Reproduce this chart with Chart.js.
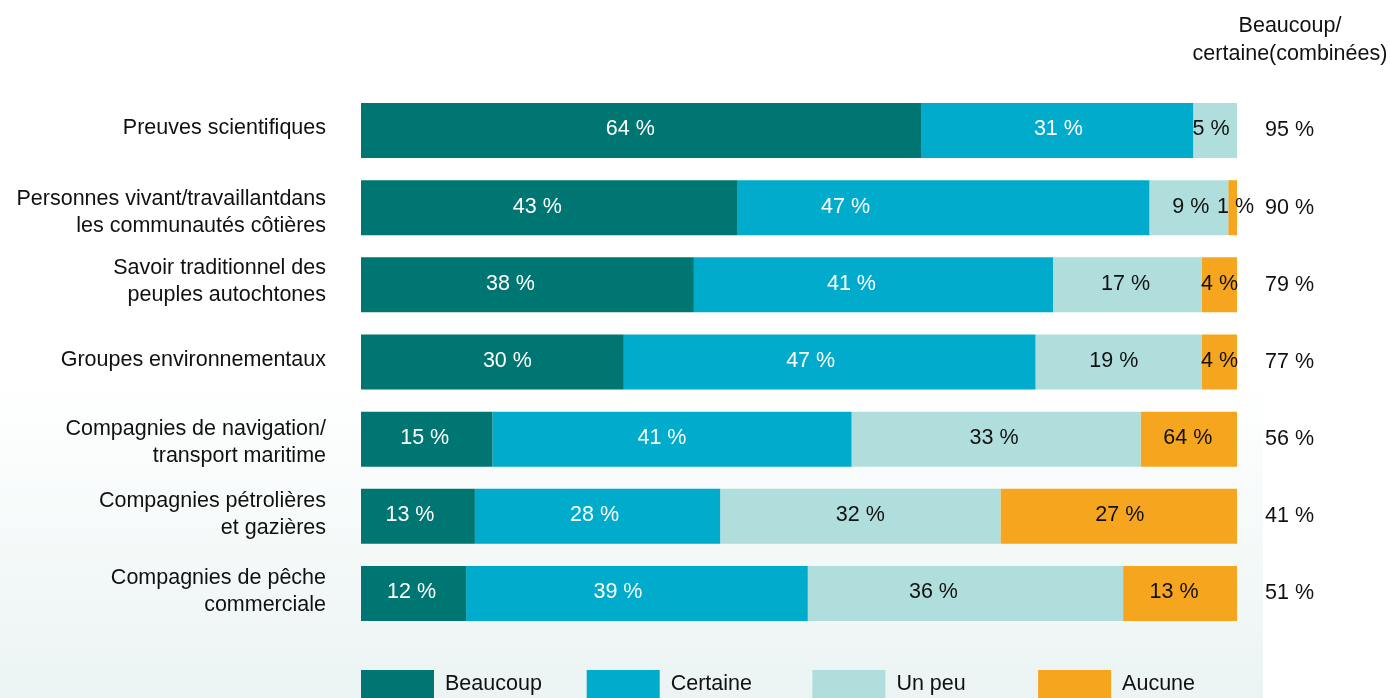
<!DOCTYPE html>
<html>
<head>
<meta charset="utf-8">
<script src="https://cdn.jsdelivr.net/npm/chart.js@4"></script>
<style>
  html, body { margin: 0; padding: 0; background: #ffffff; }
  #wrap { position: relative; width: 1390px; height: 698px; }
</style>
</head>
<body>
<div id="wrap"><canvas id="chart" width="1390" height="698"></canvas></div>
<script>
// ---------------- DATA ----------------
const categories = [
  ["Preuves scientifiques"],
  ["Personnes vivant/travaillantdans", "les communautés côtières"],
  ["Savoir traditionnel des", "peuples autochtones"],
  ["Groupes environnementaux"],
  ["Compagnies de navigation/", "transport maritime"],
  ["Compagnies pétrolières", "et gazières"],
  ["Compagnies de pêche", "commerciale"]
];
const beaucoup = [64, 43, 38, 30, 15, 13, 12];
const certaine = [31, 47, 41, 47, 41, 28, 39];
const unPeu = [5, 9, 17, 19, 33, 32, 36];
const aucune = [0, 1, 4, 4, 11, 27, 13];
// label printed on the "Aucune" segments (as shown in the source, incl. the 64 % one)
const aucuneLabels = ["", "1 %", "4 %", "4 %", "64 %", "27 %", "13 %"];
const combined = [95, 90, 79, 77, 56, 41, 51];
const seriesNames = ["Beaucoup", "Certaine", "Un peu", "Aucune"];
const seriesColors = ["#007672", "#00abcc", "#b0dedc", "#f6a51e"];
const combinedTitle = ["Beaucoup/", "certaine(combinées)"];

const FONT = "'Liberation Sans', Arial, sans-serif";
const SIZE = 21.5;

// the source places some segment labels off-centre; horizontal nudges in px
const labelNudge = [
  [-11, -12, -17, 15, -2, -8, -2],
  [1, -98, -22, -19, -10, -3, -19],
  [-4, 2, -2, -5, -2, 0, -32],
  [0, 3, 0, 0, -1, 1, -6]
];
// vertical nudges of the category labels
const catNudge = [-2, 5, -3, -2, 3, -2, -2];

// ---------------- PLUGINS ----------------
const bgPlugin = {
  id: "bg",
  beforeDraw(chart) {
    const ctx = chart.ctx;
    const g = ctx.createLinearGradient(0, 380, 0, chart.height);
    g.addColorStop(0, "rgba(235,244,243,0)");
    g.addColorStop(1, "#ebf4f3");
    ctx.save();
    ctx.fillStyle = g;
    ctx.fillRect(0, 0, 1263, chart.height);
    ctx.restore();
  }
};

const textPlugin = {
  id: "texts",
  afterDatasetsDraw(chart) {
    const ctx = chart.ctx;
    const yScale = chart.scales.y;
    const area = chart.chartArea;
    ctx.save();
    ctx.font = SIZE + "px " + FONT;
    ctx.textBaseline = "middle";

    // category labels
    ctx.fillStyle = "#111111";
    ctx.textAlign = "right";
    categories.forEach((lines, i) => {
      const cy = yScale.getPixelForValue(i) + catNudge[i];
      const top = cy - (lines.length - 1) * 27 / 2;
      lines.forEach((t, j) => ctx.fillText(t, area.left - 35, top + j * 27));
    });

    // segment labels
    ctx.textAlign = "center";
    chart.data.datasets.forEach((ds, di) => {
      const meta = chart.getDatasetMeta(di);
      meta.data.forEach((bar, i) => {
        const txt = di === 3 ? aucuneLabels[i] : ds.data[i] + " %";
        if (!txt || ds.data[i] === 0) return;
        ctx.fillStyle = di < 2 ? "#ffffff" : "#111111";
        ctx.fillText(txt, (bar.base + bar.x) / 2 + labelNudge[di][i], bar.y - 1);
      });
    });

    // combined column
    ctx.fillStyle = "#111111";
    ctx.textAlign = "left";
    combined.forEach((v, i) => {
      ctx.fillText(v + " %", area.right + 28, yScale.getPixelForValue(i));
    });
    ctx.textAlign = "center";
    combinedTitle.forEach((t, j) => ctx.fillText(t, 1290, 26 + j * 28));

    // legend
    seriesNames.forEach((name, i) => {
      const x = area.left + i * 225.7;
      ctx.fillStyle = seriesColors[i];
      ctx.fillRect(x, 670, 73, 30);
      ctx.fillStyle = "#111111";
      ctx.textAlign = "left";
      ctx.fillText(name, x + 84, 684);
    });
    ctx.restore();
  }
};

// ---------------- CHART ----------------
new Chart(document.getElementById("chart"), {
  type: "bar",
  data: {
    labels: categories.map(c => c.join(" ")),
    datasets: [beaucoup, certaine, unPeu, aucune].map((d, i) => ({
      label: seriesNames[i],
      data: d,
      backgroundColor: seriesColors[i],
      borderWidth: 0,
      barPercentage: 0.713,
      categoryPercentage: 1
    }))
  },
  options: {
    indexAxis: "y",
    responsive: false,
    animation: false,
    layout: { padding: { left: 361, right: 153, top: 92, bottom: 66 } },
    plugins: { legend: { display: false }, tooltip: { enabled: false } },
    scales: {
      x: { stacked: true, min: 0, max: 100, display: false },
      y: { stacked: true, display: false }
    }
  },
  plugins: [bgPlugin, textPlugin]
});
</script>
</body>
</html>
